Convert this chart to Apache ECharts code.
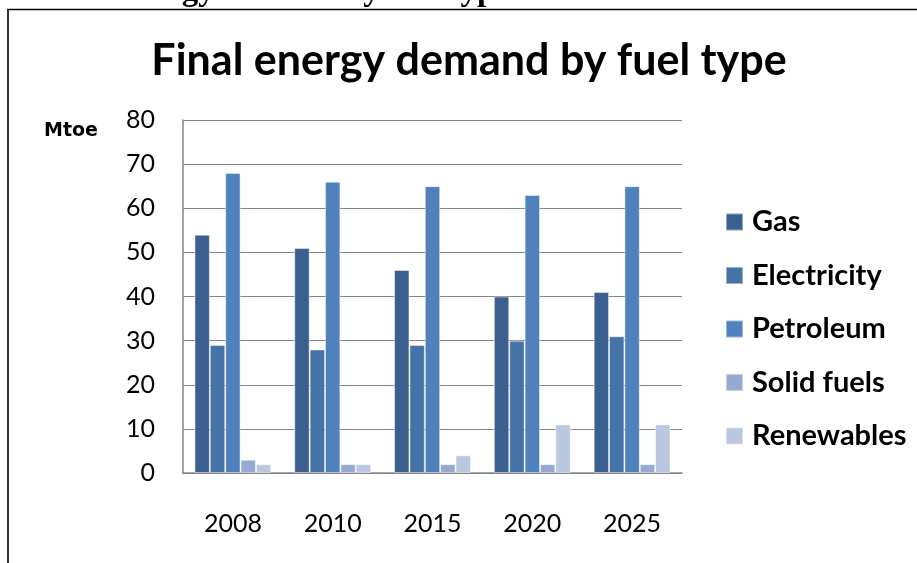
<!DOCTYPE html>
<html>
<head>
<meta charset="utf-8">
<style>
  html, body { margin: 0; padding: 0; background: #ffffff; }
  #chart { width: 917px; height: 563px; }
</style>
<script src="https://cdn.jsdelivr.net/npm/echarts@6/dist/echarts.min.js"></script>
</head>
<body>
<div id="chart"></div>
<script>
// ---- data ----
const years = ['2008', '2010', '2015', '2020', '2025'];
const gas = [54, 51, 46, 40, 41];
const electricity = [29, 28, 29, 30, 31];
const petroleum = [68, 66, 65, 63, 65];
const solidFuels = [3, 2, 2, 2, 2];
const renewables = [2, 2, 4, 11, 11];
const seriesNames = ['Gas', 'Electricity', 'Petroleum', 'Solid fuels', 'Renewables'];
const yTicks = { min: 0, max: 80, interval: 10 };

const colors = ['#3b5f8f', '#4572a7', '#4f81bd', '#95a9d1', '#b9c7e1'];
const values = [gas, electricity, petroleum, solidFuels, renewables];

const chart = echarts.init(document.getElementById('chart'), null, { renderer: 'canvas' });

const option = {
  animation: false,
  backgroundColor: '#ffffff',
  title: {
    text: 'Final energy demand by fuel type',
    left: 469,
    textAlign: 'center',
    top: 40,
    padding: 0,
    textStyle: {
      fontFamily: 'Lato',
      fontWeight: 'bold',
      fontSize: 43,
      color: '#000000'
    }
  },
  graphic: [
    {
      type: 'text',
      x: 510,
      y: 8,
      style: {
        text: 'Final energy demand by fuel type',
        fontFamily: 'Liberation Serif',
        fontWeight: 'bold',
        fontSize: 33,
        fill: '#000000',
        align: 'right',
        verticalAlign: 'bottom'
      }
    },
    {
      type: 'rect',
      shape: { x: 8, y: 9.5, width: 1200, height: 1000 },
      style: { fill: 'none', stroke: '#000000', lineWidth: 1.6 }
    },
    {
      type: 'text',
      x: 44,
      y: 122,
      style: {
        text: 'Mtoe',
        fontFamily: 'DejaVu Sans',
        fontWeight: 'bold',
        fontSize: 19,
        fill: '#000000'
      }
    }
  ],
  legend: {
    orient: 'vertical',
    left: 725,
    top: 207.5,
    padding: 0,
    icon: 'rect',
    itemWidth: 17,
    itemHeight: 17,
    itemGap: 24.5,
    data: seriesNames,
    textStyle: {
      fontFamily: 'Lato',
      fontWeight: 'bold',
      fontSize: 29,
      lineHeight: 24,
      color: '#000000',
      padding: [0, 0, 0, 4]
    }
  },
  grid: {
    left: 183,
    right: 235,
    top: 120,
    bottom: 90
  },
  xAxis: {
    type: 'category',
    data: years,
    axisLine: { show: true, lineStyle: { color: '#868686', width: 1.5 } },
    axisTick: { show: false },
    axisLabel: {
      margin: 38,
      fontFamily: 'Lato',
      fontSize: 25,
      color: '#000000'
    }
  },
  yAxis: {
    type: 'value',
    min: yTicks.min,
    max: yTicks.max,
    interval: yTicks.interval,
    axisLine: { show: true, lineStyle: { color: '#868686', width: 1.5 } },
    axisTick: { show: false },
    splitLine: { show: true, lineStyle: { color: '#868686', width: 1.2 } },
    axisLabel: {
      margin: 28,
      fontFamily: 'Lato',
      fontSize: 25,
      color: '#000000'
    }
  },
  series: seriesNames.map((name, i) => ({
    name: name,
    type: 'bar',
    data: values[i],
    barGap: '0%',
    barCategoryGap: '23%',
    itemStyle: {
      color: colors[i],
      borderColor: 'rgba(255,255,255,0.45)',
      borderWidth: 1
    }
  }))
};

chart.setOption(option);
</script>
</body>
</html>
